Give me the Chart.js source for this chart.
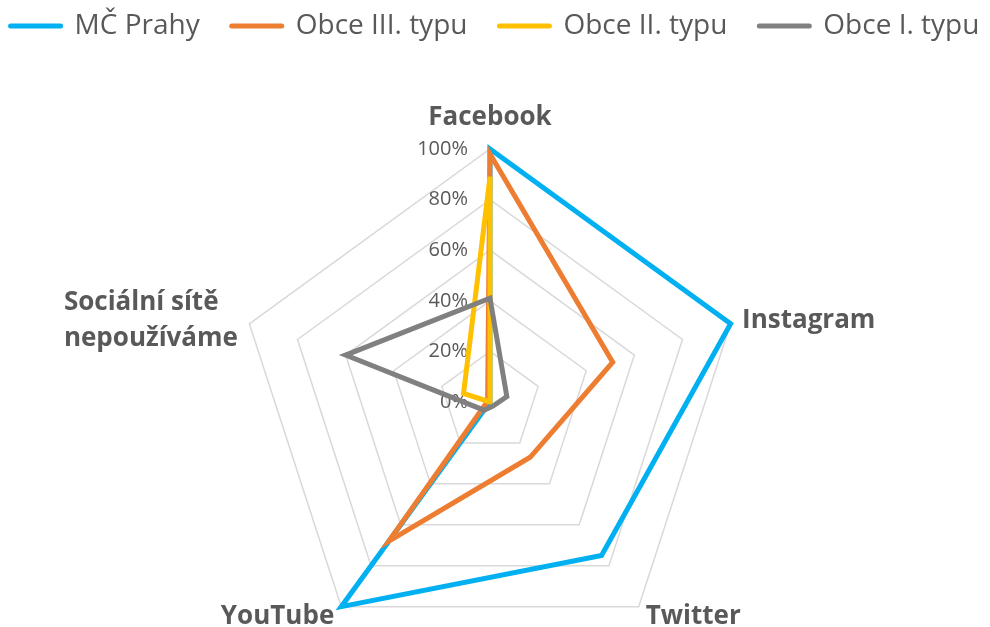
<!DOCTYPE html>
<html>
<head>
<meta charset="utf-8">
<script src="https://cdn.jsdelivr.net/npm/chart.js@4.4.1/dist/chart.umd.min.js"></script>
<style>
  html, body { margin: 0; padding: 0; background: #fff; }
  #wrap { width: 990px; height: 627px; position: relative; }
</style>
</head>
<body>
<div id="wrap"><canvas id="chart"></canvas></div>
<script>
const categories = ['Facebook', 'Instagram', 'Twitter', 'YouTube', ['Sociální sítě', 'nepoužíváme']];
const seriesNames = ['MČ Prahy', 'Obce III. typu', 'Obce II. typu', 'Obce I. typu'];
const mcPrahy = [100, 100, 75, 100, 0];
const obceIII = [98, 51, 27, 68, 1];
const obceII = [89, 0, 0, 0, 11];
const obceI = [41, 7, 2, 4, 60];
const tickValues = [0, 20, 40, 60, 80, 100];
const tickLabels = ['0%', '20%', '40%', '60%', '80%', '100%'];

const colors = ['#00B0F0', '#ED7D31', '#FFC000', '#808080'];
const TEXT = '#595959';
const FONT = '"Open Sans", sans-serif';
const CENTER_X = 490, CENTER_Y = 402, RADIUS = 253;
const LABEL_GAP = 12, LINE_H = 36;

// percent labels sit left of the vertical axis, right aligned (Excel style)
const tickText = {
  id: 'tickText',
  beforeDatasetsDraw(chart) {
    const scale = chart.scales.r;
    const ctx = chart.ctx;
    ctx.save();
    ctx.font = '20px ' + FONT;
    ctx.fillStyle = TEXT;
    ctx.textAlign = 'right';
    ctx.textBaseline = 'middle';
    tickValues.forEach((v, i) => {
      const p = scale.getPointPositionForValue(0, v);
      ctx.fillText(tickLabels[i], p.x - 22, p.y);
    });
    ctx.restore();
  }
};

// category names around the web
const axisText = {
  id: 'axisText',
  afterDatasetsDraw(chart) {
    const scale = chart.scales.r;
    const ctx = chart.ctx;
    ctx.save();
    ctx.font = 'bold 26px ' + FONT;
    ctx.fillStyle = TEXT;
    ctx.textBaseline = 'middle';
    chart.data.labels.forEach((label, i) => {
      const lines = [].concat(label);
      const p = scale.getPointPosition(i, scale.drawingArea + LABEL_GAP);
      const cos = Math.cos(p.angle);
      if (Math.abs(cos) < 0.01) {
        ctx.textAlign = 'center';
        ctx.fillText(lines[0], p.x, p.y - 19);
        return;
      }
      ctx.textAlign = 'left';
      const w = Math.max(...lines.map(l => ctx.measureText(l).width));
      const left = cos > 0 ? p.x : p.x - w;
      const top = p.y - (lines.length - 1) * LINE_H / 2;
      lines.forEach((l, k) => ctx.fillText(l, left, top + k * LINE_H));
    });
    ctx.restore();
  }
};

const series = [mcPrahy, obceIII, obceII, obceI];

new Chart(document.getElementById('chart'), {
  type: 'radar',
  data: {
    labels: categories,
    datasets: series.map((data, i) => ({
      label: seriesNames[i],
      data: data,
      borderColor: colors[i],
      backgroundColor: colors[i],
      borderWidth: 5,
      fill: false,
      pointRadius: 0,
      pointHoverRadius: 0,
      order: series.length - 1 - i // last series on top, like Excel
    }))
  },
  options: {
    responsive: true,
    maintainAspectRatio: false,
    animation: false,
    // wide negative side padding keeps the legend on one row
    layout: { padding: { top: -20, left: -60, right: -60, bottom: 0 } },
    plugins: {
      legend: {
        position: 'top',
        align: 'center',
        labels: {
          usePointStyle: true,
          pointStyle: 'line',
          pointStyleWidth: 50,
          padding: 32,
          color: TEXT,
          font: { family: FONT, size: 28 },
          generateLabels(chart) {
            return Chart.defaults.plugins.legend.labels.generateLabels(chart)
              .map(item => Object.assign(item, { lineCap: 'round', lineWidth: 5 }));
          },
          sort: (a, b) => a.datasetIndex - b.datasetIndex
        }
      },
      tooltip: { enabled: false }
    },
    scales: {
      r: {
        min: 0,
        max: 100,
        ticks: { display: false, stepSize: 20 },
        pointLabels: { display: false },
        angleLines: { display: false },
        grid: { color: '#D9D9D9', lineWidth: 1.5 },
        afterFit(scale) {
          scale.xCenter = CENTER_X;
          scale.yCenter = CENTER_Y;
          scale.drawingArea = RADIUS;
        }
      }
    }
  },
  plugins: [tickText, axisText]
});
</script>
</body>
</html>
